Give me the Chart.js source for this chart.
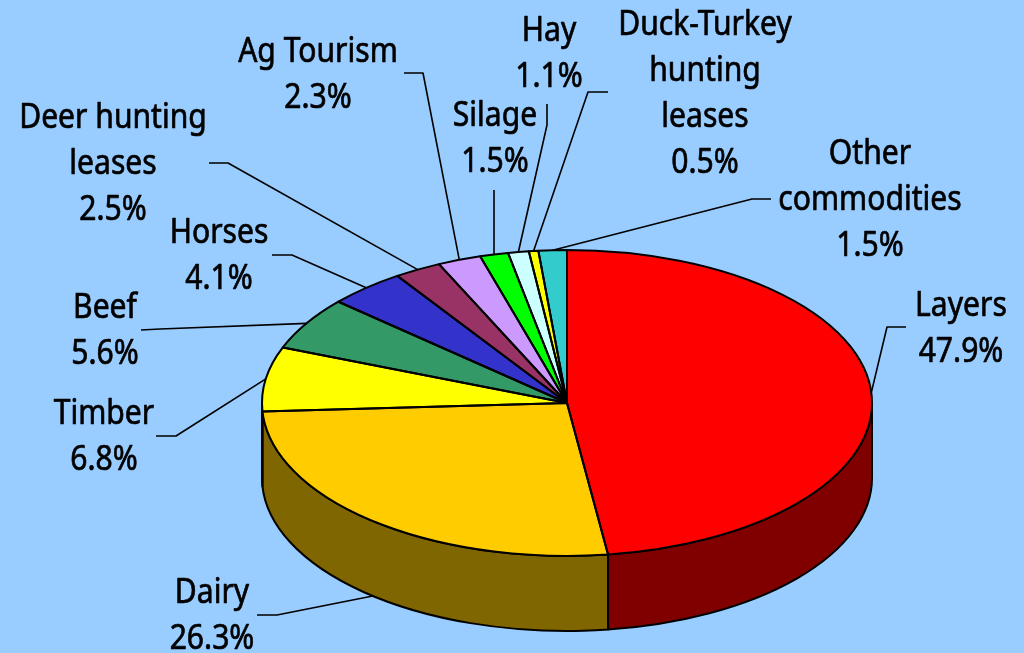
<!DOCTYPE html>
<html>
<head>
<meta charset="utf-8">
<title>Farm income share</title>
<script src="https://cdn.jsdelivr.net/npm/chart.js@4"></script>
<style>
  html, body { margin: 0; padding: 0; background: #99CCFF; overflow: hidden; }
  canvas { display: block; }
</style>
</head>
<body>
<canvas id="pie" width="1024" height="653"></canvas>
<script>
const categories = ['Layers', 'Dairy', 'Timber', 'Beef', 'Horses', 'Deer hunting leases', 'Ag Tourism', 'Silage', 'Hay', 'Duck-Turkey hunting leases', 'Other commodities'];
const shares = [47.9, 26.3, 6.8, 5.6, 4.1, 2.5, 2.3, 1.5, 1.1, 0.5, 1.5];
const sliceColors = ['#FF0000', '#FFCC00', '#FFFF00', '#339966', '#3333CC', '#993366', '#CC99FF', '#00FF00', '#CCFFFF', '#FFFF00', '#33CCCC'];
const sideColors = ['#800000', '#806600'];
const labelLines = [['Layers'], ['Dairy'], ['Timber'], ['Beef'], ['Horses'], ['Deer hunting', 'leases'], ['Ag Tourism'], ['Silage'], ['Hay'], ['Duck-Turkey', 'hunting', 'leases'], ['Other', 'commodities']];

// where each label sits and where its leader starts, same order as categories
const labelSpots = [
  { x: 961, y: 306, leader: [[906, 327], [887, 327]] },
  { x: 212, y: 593, leader: [[257, 615], [277, 615]] },
  { x: 104, y: 414, leader: [[156, 436], [176, 436]] },
  { x: 105, y: 308, leader: [[141, 330], [160, 329]] },
  { x: 219, y: 233, leader: [[272, 255], [292, 255]] },
  { x: 113, y: 118, leader: [[209, 163], [228, 163]] },
  { x: 318, y: 52, leader: [[404, 73], [423, 73]] },
  { x: 495, y: 116, leader: [[494, 190]] },
  { x: 549, y: 31, leader: [[547, 104], [547, 125]] },
  { x: 705, y: 25, leader: [[608, 92], [588, 92]] },
  { x: 870, y: 154, leader: [[771, 199], [752, 199]] }
];

const pieCenterY = 403;
const squash = 153 / 305;
const depth = 75;
const lineGap = 46;
const textSqueeze = 0.885;

function ellipseOf(arc) {
  return { cx: arc.x, rx: arc.outerRadius, ry: arc.outerRadius * squash };
}

const tiltedPie = {
  id: 'tiltedPie',
  beforeDatasetsDraw(chart) {
    const ctx = chart.ctx;
    const arcs = chart.getDatasetMeta(0).data;

    // side wall, only the part facing the viewer
    ctx.save();
    ctx.strokeStyle = '#000';
    ctx.lineWidth = 2;
    ctx.lineJoin = 'round';
    arcs.forEach((arc, i) => {
      const from = Math.max(arc.startAngle, 0);
      const to = Math.min(arc.endAngle, Math.PI);
      if (to <= from) return;
      const { cx, rx, ry } = ellipseOf(arc);
      ctx.beginPath();
      ctx.ellipse(cx, pieCenterY, rx, ry, 0, from, to);
      ctx.ellipse(cx, pieCenterY + depth, rx, ry, 0, to, from, true);
      ctx.closePath();
      ctx.fillStyle = sideColors[i];
      ctx.fill();
      ctx.stroke();
    });
    ctx.restore();

    // library draws the slices into a squashed circle
    const arc = arcs[0];
    ctx.save();
    ctx.translate(0, pieCenterY);
    ctx.scale(1, squash);
    ctx.translate(0, -arc.y);
  },
  afterDatasetsDraw(chart) {
    const ctx = chart.ctx;
    ctx.restore();

    const arcs = chart.getDatasetMeta(0).data;
    ctx.save();
    ctx.strokeStyle = '#000';
    ctx.lineWidth = 2;
    ctx.lineJoin = 'round';
    arcs.forEach(arc => {
      const { cx, rx, ry } = ellipseOf(arc);
      ctx.beginPath();
      ctx.moveTo(cx, pieCenterY);
      ctx.ellipse(cx, pieCenterY, rx, ry, 0, arc.startAngle, arc.endAngle);
      ctx.closePath();
      ctx.stroke();
    });

    // leaders run to the middle of each slice
    ctx.lineWidth = 1.6;
    arcs.forEach((arc, i) => {
      const { cx, rx, ry } = ellipseOf(arc);
      const mid = (arc.startAngle + arc.endAngle) / 2;
      const front = mid > 0 && mid < Math.PI;
      const pts = labelSpots[i].leader;
      ctx.beginPath();
      ctx.moveTo(pts[0][0], pts[0][1]);
      pts.slice(1).forEach(p => ctx.lineTo(p[0], p[1]));
      ctx.lineTo(cx + rx * Math.cos(mid), pieCenterY + ry * Math.sin(mid) + (front ? depth : 0));
      ctx.stroke();
    });

    // labels, narrowed a bit to get the tall look of the original face
    ctx.font = '34px "Noto Sans"';
    ctx.textAlign = 'center';
    ctx.textBaseline = 'middle';
    ctx.fillStyle = '#000';
    ctx.lineWidth = 0.7;
    categories.forEach((name, i) => {
      const lines = labelLines[i].concat(shares[i].toFixed(1) + '%');
      lines.forEach((line, j) => {
        ctx.save();
        ctx.translate(labelSpots[i].x, labelSpots[i].y + j * lineGap);
        ctx.scale(textSqueeze, 1);
        ctx.fillText(line, 0, 0);
        ctx.strokeText(line, 0, 0);
        ctx.restore();
      });
    });
    ctx.restore();
  }
};

new Chart(document.getElementById('pie'), {
  type: 'pie',
  data: {
    labels: categories,
    datasets: [{
      data: shares,
      backgroundColor: sliceColors,
      borderWidth: 0
    }]
  },
  options: {
    responsive: false,
    animation: false,
    events: [],
    layout: { padding: { left: 262, right: 152, top: 21, bottom: 22 } },
    plugins: {
      legend: { display: false },
      tooltip: { enabled: false }
    }
  },
  plugins: [tiltedPie]
});
</script>
</body>
</html>
